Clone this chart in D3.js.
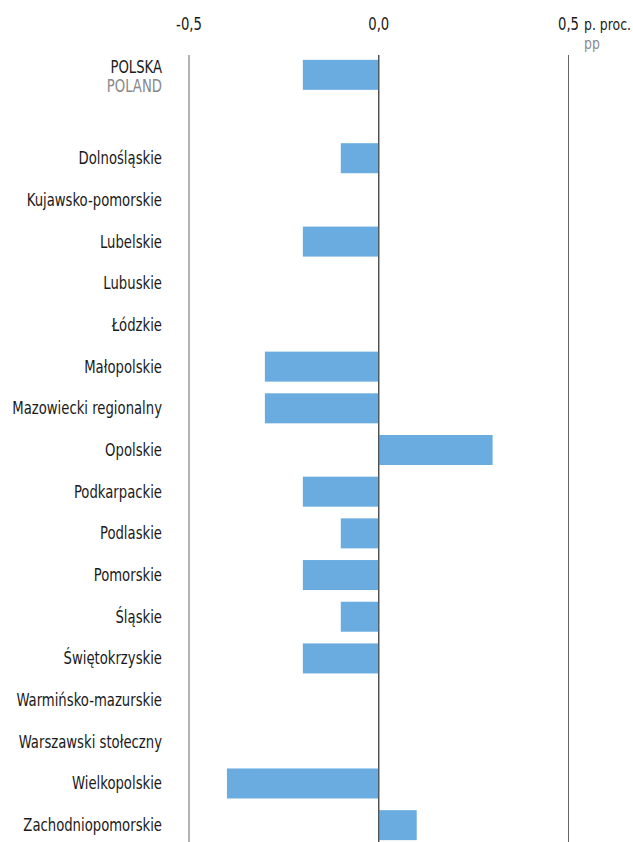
<!DOCTYPE html>
<html>
<head>
<meta charset="utf-8">
<script src="https://cdn.jsdelivr.net/npm/d3@7"></script>
<style>
  body { margin: 0; background: #fff; }
  text { font-family: "DejaVu Sans Condensed", "Liberation Sans Narrow", sans-serif; }
</style>
</head>
<body>
<svg width="633" height="842"></svg>
<script>
// Data
const regions = ["POLSKA", "", "Dolnośląskie", "Kujawsko-pomorskie", "Lubelskie", "Lubuskie", "Łódzkie",
    "Małopolskie", "Mazowiecki regionalny", "Opolskie", "Podkarpackie", "Podlaskie", "Pomorskie",
    "Śląskie", "Świętokrzyskie", "Warmińsko-mazurskie", "Warszawski stołeczny", "Wielkopolskie",
    "Zachodniopomorskie"];
const values = [-0.2, null, -0.1, 0, -0.2, 0, 0, -0.3, -0.3, 0.3, -0.2, -0.1, -0.2, -0.1, -0.2, 0, 0, -0.4, 0.1];
const ticks = [-0.5, 0, 0.5];
const tickLabels = ["-0,5", "0,0", "0,5"];

const svg = d3.select("svg"),
    width = +svg.attr("width"),
    height = +svg.attr("height");

const squeeze = 0.84;   // narrow the font a bit, the original uses a condensed face

// helper for squeezed text
function label(g, x0, y0, txt, color, anchor, size) {
    return g.append("text")
        .attr("transform", `translate(${x0},${y0}) scale(${squeeze},1)`)
        .attr("text-anchor", anchor || "start")
        .style("font-size", (size || 17.5) + "px")
        .style("fill", color)
        .text(txt);
}

// scales
const x = d3.scaleLinear()
    .domain([-0.5, 0.5])
    .range([189, 568.5]);

const y = d3.scaleBand()
    .domain(regions.map((d, i) => i))
    .range([54, 846])
    .paddingInner(0.28)
    .paddingOuter(0.14);

// grid lines
svg.append("g")
    .selectAll("line")
    .data(ticks)
    .join("line")
    .attr("x1", d => x(d))
    .attr("x2", d => x(d))
    .attr("y1", 55)
    .attr("y2", height)
    .attr("stroke", d => d === 0 ? "#444" : "#666")
    .attr("stroke-width", 1);

// top tick labels
const tickG = svg.append("g");
ticks.forEach((t, i) => label(tickG, x(t), 30, tickLabels[i], "#1a1a1a", "middle"));

// unit
label(svg, 584, 30, "p. proc.", "#1a1a1a", "start", 16.5);
label(svg, 584, 49, "pp", "#888", "start", 16.5);

// bars
svg.append("g")
    .selectAll("rect")
    .data(values.map((v, i) => ({v, i})).filter(d => d.v))
    .join("rect")
    .attr("x", d => x(Math.min(0, d.v)))
    .attr("width", d => Math.abs(x(d.v) - x(0)))
    .attr("y", d => y(d.i))
    .attr("height", y.bandwidth())
    .attr("fill", "#6aacdf");

// zero line over the bars
svg.append("line")
    .attr("x1", x(0)).attr("x2", x(0))
    .attr("y1", 55).attr("y2", height)
    .attr("stroke", "#444");

// category labels
const cats = svg.append("g");
regions.forEach((r, i) => {
    if (r && i > 0) label(cats, 162, y(i) + y.bandwidth() / 2 + 6, r, "#1a1a1a", "end");
});

label(svg, 162, 73, "POLSKA", "#1a1a1a", "end");
label(svg, 162, 92, "POLAND", "#888", "end");
</script>
</body>
</html>
